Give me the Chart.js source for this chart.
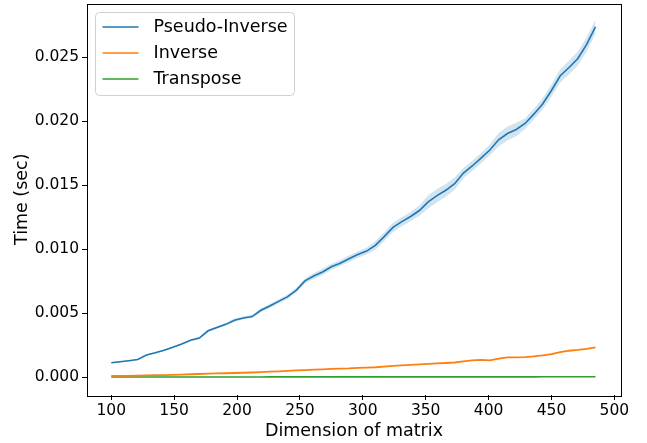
<!DOCTYPE html>
<html>
<head>
<meta charset="utf-8">
<script src="https://cdn.jsdelivr.net/npm/chart.js@4"></script>
<style>
  html, body { margin: 0; padding: 0; background: #fff; }
  #wrap { width: 647px; height: 443px; }
</style>
</head>
<body>
<div id="wrap"><canvas id="chart" width="647" height="443"></canvas></div>
<script>
// Tiempos de inversión / pseudo-inversa / transpuesta según dimensión de la matriz
const dims = [100,107,114,121,128,135,142,149,156,163,170,177,184,191,198,205,212,219,226,233,
              240,247,254,261,268,275,282,289,296,303,310,317,324,331,338,345,352,359,366,373,
              380,387,394,401,408,415,422,429,436,443,450,457,464,471,478,485];

const pinvTime = [0.00112,0.00120,0.00128,0.00137,0.00172,0.00190,0.00210,0.00234,0.00258,0.00288,
                  0.00305,0.00362,0.00388,0.00412,0.00445,0.00462,0.00473,0.00522,0.00556,0.00592,
                  0.00627,0.00678,0.00752,0.00790,0.00822,0.00862,0.00890,0.00925,0.00958,0.00985,
                  0.01030,0.01098,0.01170,0.01215,0.01255,0.01302,0.01370,0.01418,0.01460,0.01512,
                  0.01595,0.01650,0.01712,0.01775,0.01855,0.01904,0.01935,0.01982,0.02055,0.02135,
                  0.02240,0.02355,0.02420,0.02490,0.02600,0.02737];

// semi-ancho de la banda de confianza de la pseudo-inversa
const pinvBand = [0.00005,0.00005,0.00005,0.00005,0.00006,0.00006,0.00006,0.00006,0.00006,0.00006,
                  0.00010,0.00010,0.00010,0.00010,0.00012,0.00012,0.00012,
                  0.00016,0.00016,0.00016,0.00016,0.00018,0.00018,
                  0.00024,0.00024,0.00024,0.00024,0.00026,0.00026,0.00026,
                  0.00034,0.00034,0.00036,0.00036,0.00036,0.00040,
                  0.00052,0.00052,0.00050,0.00048,
                  0.00040,0.00040,0.00040,0.00042,
                  0.00052,0.00054,0.00052,
                  0.00042,0.00042,0.00044,0.00046,
                  0.00052,0.00054,0.00054,0.00056,0.00056];

const invTime = [0.00010,0.00010,0.00010,0.00011,0.00013,0.00015,0.00016,0.00018,0.00020,0.00022,
                 0.00024,0.00027,0.00029,0.00030,0.00032,0.00034,0.00036,0.00039,0.00042,0.00045,
                 0.00048,0.00052,0.00055,0.00058,0.00061,0.00064,0.00066,0.00068,0.00072,0.00074,
                 0.00077,0.00082,0.00087,0.00092,0.00096,0.00100,0.00104,0.00107,0.00110,0.00114,
                 0.00122,0.00130,0.00134,0.00131,0.00145,0.00154,0.00154,0.00156,0.00162,0.00170,
                 0.00180,0.00196,0.00206,0.00212,0.00220,0.00232];

const transTime = [0.000008,0.000008,0.000008,0.000009,0.000009,0.000009,0.000010,0.000010,0.000010,0.000010,
                   0.000011,0.000011,0.000011,0.000011,0.000012,0.000012,0.000012,0.000012,0.000013,0.000013,
                   0.000013,0.000013,0.000014,0.000014,0.000014,0.000014,0.000015,0.000015,0.000015,0.000015,
                   0.000016,0.000016,0.000016,0.000016,0.000017,0.000017,0.000017,0.000017,0.000018,0.000018,
                   0.000018,0.000018,0.000019,0.000019,0.000019,0.000019,0.000020,0.000020,0.000020,0.000021,
                   0.000021,0.000021,0.000022,0.000022,0.000023,0.000024];

const seriesNames = ['Pseudo-Inverse', 'Inverse', 'Transpose'];
const seriesColors = ['#1f77b4', '#ff7f0e', '#2ca02c'];

const xTicks = [100,150,200,250,300,350,400,450,500];
const yTicks = [0,0.005,0.010,0.015,0.020,0.025];

const FONT = '"DejaVu Sans", sans-serif';

const pts = arr => arr.map((v, i) => ({x: dims[i], y: v}));
const upper = pinvTime.map((v, i) => v + pinvBand[i]);
const lower = pinvTime.map((v, i) => v - pinvBand[i]);

// marco completo (4 ejes) + leyenda con caja, al estilo matplotlib
const framePlugin = {
    id: 'frame',
    afterDatasetsDraw(chart) {
        const {ctx, chartArea: a} = chart;
        ctx.save();
        ctx.strokeStyle = '#000';
        ctx.lineWidth = 1;
        ctx.strokeRect(Math.round(a.left) + 0.5, Math.round(a.top) + 0.5,
                       Math.round(a.right - a.left), Math.round(a.bottom - a.top));

        // leyenda
        const bx = a.left + 8.5, by = a.top + 9, bw = 199, bh = 83, r = 4;
        ctx.beginPath();
        ctx.moveTo(bx + r, by);
        ctx.arcTo(bx + bw, by, bx + bw, by + bh, r);
        ctx.arcTo(bx + bw, by + bh, bx, by + bh, r);
        ctx.arcTo(bx, by + bh, bx, by, r);
        ctx.arcTo(bx, by, bx + bw, by, r);
        ctx.closePath();
        ctx.fillStyle = 'rgba(255,255,255,0.8)';
        ctx.fill();
        ctx.strokeStyle = '#d0d0d0';
        ctx.stroke();

        ctx.font = '17.5px ' + FONT;
        ctx.textBaseline = 'middle';
        ctx.textAlign = 'left';
        seriesNames.forEach((name, i) => {
            const y = by + 14.5 + i * 26;
            ctx.strokeStyle = seriesColors[i];
            ctx.lineWidth = 1.6;
            ctx.beginPath();
            ctx.moveTo(bx + 7, y);
            ctx.lineTo(bx + 43, y);
            ctx.stroke();
            ctx.fillStyle = '#000';
            ctx.fillText(name, bx + 58, y);
        });
        ctx.restore();
    }
};

const ctx = document.getElementById('chart').getContext('2d');
new Chart(ctx, {
    type: 'line',
    data: {
        datasets: [
            { label: 'upper', data: pts(upper), borderWidth: 0, pointRadius: 0,
              backgroundColor: 'rgba(31,119,180,0.2)', fill: '+1', order: 5 },
            { label: 'lower', data: pts(lower), borderWidth: 0, pointRadius: 0,
              backgroundColor: 'rgba(31,119,180,0.2)', fill: false, order: 5 },
            { label: seriesNames[0], data: pts(pinvTime), borderColor: seriesColors[0], borderWidth: 1.6,
              pointRadius: 0, fill: false, tension: 0, order: 1 },
            { label: seriesNames[1], data: pts(invTime), borderColor: seriesColors[1], borderWidth: 1.8,
              pointRadius: 0, fill: false, tension: 0, order: 2 },
            { label: seriesNames[2], data: pts(transTime), borderColor: seriesColors[2], borderWidth: 1.6,
              pointRadius: 0, fill: false, tension: 0, order: 3 }
        ]
    },
    options: {
        responsive: false,
        animation: false,
        devicePixelRatio: 1,
        layout: { padding: { left: 0, top: 3.5, right: 26, bottom: 0 } },
        plugins: { legend: { display: false }, tooltip: { enabled: false } },
        scales: {
            x: {
                type: 'linear', min: 80.7, max: 505.3,
                afterBuildTicks: s => { s.ticks = xTicks.map(v => ({value: v})); },
                afterFit: s => { s.height = 48; s.paddingLeft = 0; s.paddingRight = 0; },
                border: { display: false },
                grid: { display: true, drawOnChartArea: false, drawTicks: true, tickLength: 5, color: '#000' },
                ticks: { color: '#000', font: { family: FONT, size: 15.5 }, padding: 2, maxRotation: 0,
                         callback: v => String(v) },
                title: { display: true, text: 'Dimension of matrix', color: '#000',
                         font: { family: FONT, size: 17.5 }, padding: { top: 0, bottom: 1 } }
            },
            y: {
                type: 'linear', min: -0.0014, max: 0.0292,
                afterBuildTicks: s => { s.ticks = yTicks.map(v => ({value: v})); },
                afterFit: s => { s.width = 87; s.paddingTop = 0; s.paddingBottom = 0; },
                border: { display: false },
                grid: { display: true, drawOnChartArea: false, drawTicks: true, tickLength: 5, color: '#000' },
                ticks: { color: '#000', font: { family: FONT, size: 15.5 }, padding: 3,
                         callback: v => v.toFixed(3) },
                title: { display: true, text: 'Time (sec)', color: '#000',
                         font: { family: FONT, size: 17.5 }, padding: { top: 12, bottom: 0 } }
            }
        }
    },
    plugins: [framePlugin]
});
</script>
</body>
</html>
